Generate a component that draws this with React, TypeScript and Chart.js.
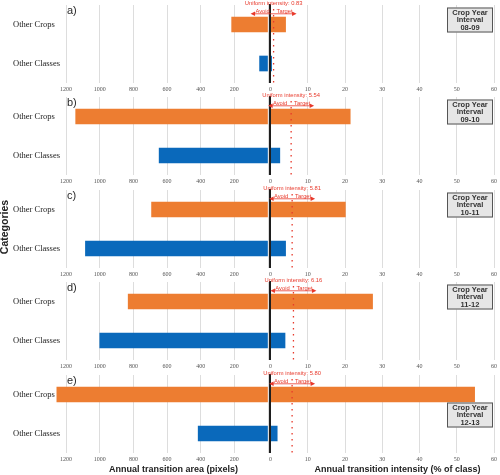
import React, { useEffect, useRef } from 'react';
import { Chart, registerables } from 'chart.js';

Chart.register(...registerables);

// ---------- data ----------
const categories = ['Other Crops', 'Other Classes'];
const panelLabels = ['a)', 'b)', 'c)', 'd)', 'e)'];
const intervals = ['08-09', '09-10', '10-11', '11-12', '12-13'];
const areaCrops = [216, 1143, 692, 831, 1255];
const areaClasses = [50, 647, 1085, 1000, 415];
const intensityCrops = [4.05, 21.4, 20.1, 27.4, 54.8];
const intensityClasses = [0.3, 2.5, 4.05, 3.9, 1.8];
const uniformIntensity = [0.83, 5.54, 5.81, 6.16, 5.8];
const areaTicks = [0, 200, 400, 600, 800, 1000, 1200];
const intensityTicks = [0, 10, 20, 30, 40, 50, 60];
const areaMax = 1260;
const intensityMax = 60;

// ---------- style ----------
const ORANGE = '#ED7D31';
const BLUE = '#0A69BB';
const RED = '#E8392B';
const GRID = '#dddddd';
const SANS = '"Liberation Sans", Arial, sans-serif';
const SERIF = '"Liberation Serif", "Times New Roman", serif';

const PLOT_TOP0 = 4.5;
const PLOT_STEP = 92.5;
const PLOT_H = 78;
const PAD_TOP = 14;
const AXIS_H = 14;
const TITLE_H = 16;
const LEFT_X = 0;
const LEFT_W = 272;
const RIGHT_X = 240;
const RIGHT_W = 260;

const n = panelLabels.length;

function panelGeom(i: number) {
  const plotTop = PLOT_TOP0 + i * PLOT_STEP;
  const top = plotTop - PAD_TOP;
  const h = PAD_TOP + PLOT_H + AXIS_H + (i === n - 1 ? TITLE_H : 0);
  return { top, h };
}

function leftPlugin(i: number) {
  return {
    id: 'leftDeco' + i,
    afterDatasetsDraw(chart: any) {
      const { ctx, chartArea: a, scales } = chart;
      const ys = scales.y;
      ctx.save();
      // category labels (left aligned)
      ctx.fillStyle = '#222';
      ctx.font = `8.5px ${SERIF}`;
      ctx.textAlign = 'left';
      ctx.textBaseline = 'middle';
      categories.forEach((c, k) => {
        ctx.fillText(c, 13, ys.getPixelForValue(k));
      });
      ctx.fillStyle = '#2a2a2a';
      ctx.font = `11px ${SANS}`;
      ctx.fillText(panelLabels[i], a.left + 11, a.top + 6);
      if (i === 2) {
        ctx.save();
        ctx.translate(5.5, a.top + 37);
        ctx.rotate(-Math.PI / 2);
        ctx.font = `bold 10.5px ${SANS}`;
        ctx.textAlign = 'center';
        ctx.fillStyle = '#222';
        ctx.fillText('Categories', 0, 0);
        ctx.restore();
      }
      if (i === n - 1) {
        ctx.font = `bold 9px ${SANS}`;
        ctx.textAlign = 'center';
        ctx.fillStyle = '#222';
        ctx.fillText('Annual transition area (pixels)', 173.5 - LEFT_X, a.bottom + 16.5);
      }
      ctx.restore();
    },
  };
}

function rightPlugin(i: number) {
  return {
    id: 'rightDeco' + i,
    afterDatasetsDraw(chart: any) {
      const { ctx, chartArea: a, scales } = chart;
      const xs = scales.x;
      const u = uniformIntensity[i];
      const x0 = xs.getPixelForValue(0);
      const ux = xs.getPixelForValue(u);
      ctx.save();
      // zero line
      ctx.strokeStyle = '#1e1e1e';
      ctx.lineWidth = 2;
      ctx.beginPath();
      ctx.moveTo(x0 - 0.5, a.top - 1);
      ctx.lineTo(x0 - 0.5, a.bottom);
      ctx.stroke();
      // uniform intensity dotted line
      ctx.strokeStyle = RED;
      ctx.lineWidth = 1.3;
      ctx.setLineDash([1.5, 4.5]);
      ctx.beginPath();
      ctx.moveTo(ux, a.top + 4);
      ctx.lineTo(ux, a.bottom);
      ctx.stroke();
      ctx.setLineDash([]);
      // labels
      ctx.fillStyle = RED;
      ctx.font = `5.8px ${SANS}`;
      ctx.textAlign = 'center';
      ctx.textBaseline = 'middle';
      ctx.fillText(`Uniform intensity: ${u.toFixed(2)}`, ux, a.top - 1.5);
      ctx.fillText('Avoid', ux - 11, a.top + 6);
      ctx.fillText('Target', ux + 11, a.top + 6);
      // arrows
      const ay = a.top + 8.8;
      ctx.strokeStyle = RED;
      ctx.lineWidth = 0.8;
      ctx.beginPath();
      ctx.moveTo(ux - 20, ay);
      ctx.lineTo(ux + 20, ay);
      ctx.stroke();
      ctx.beginPath();
      ctx.moveTo(ux - 23, ay);
      ctx.lineTo(ux - 18.5, ay - 2.2);
      ctx.lineTo(ux - 18.5, ay + 2.2);
      ctx.closePath();
      ctx.fill();
      ctx.beginPath();
      ctx.moveTo(ux + 23, ay);
      ctx.lineTo(ux + 18.5, ay - 2.2);
      ctx.lineTo(ux + 18.5, ay + 2.2);
      ctx.closePath();
      ctx.fill();
      // interval box
      const bx = a.right - 47;
      const by = a.top + (i === n - 1 ? 27.5 : 2.5);
      const bw = 46;
      const bh = 25;
      ctx.fillStyle = '#e6e6e6';
      ctx.fillRect(bx, by, bw, bh);
      ctx.strokeStyle = '#555';
      ctx.lineWidth = 1;
      ctx.strokeRect(bx + 0.5, by + 0.5, bw - 1, bh - 1);
      ctx.fillStyle = '#333';
      ctx.font = `bold 7.5px ${SANS}`;
      ctx.fillText('Crop Year', bx + bw / 2, by + 5.5);
      ctx.fillText('Interval', bx + bw / 2, by + 12.8);
      ctx.fillText(intervals[i], bx + bw / 2, by + 20);
      if (i === n - 1) {
        ctx.font = `bold 9px ${SANS}`;
        ctx.fillStyle = '#222';
        ctx.fillText('Annual transition intensity (% of class)', 397.5 - RIGHT_X, a.bottom + 16.5);
      }
      ctx.restore();
    },
  };
}

function makeLeft(canvas: HTMLCanvasElement, i: number) {
  const last = i === n - 1;
  return new Chart(canvas, {
    type: 'bar',
    data: {
      labels: categories,
      datasets: [
        {
          data: [areaCrops[i], areaClasses[i]],
          backgroundColor: [ORANGE, BLUE],
          borderWidth: 0,
          barThickness: 15,
        },
      ],
    },
    options: {
      indexAxis: 'y',
      responsive: false,
      animation: false,
      layout: { padding: { top: PAD_TOP, left: 13, right: LEFT_W - 268, bottom: last ? TITLE_H : 0 } },
      plugins: { legend: { display: false }, tooltip: { enabled: false } },
      scales: {
        x: {
          type: 'linear',
          reverse: true,
          min: 0,
          max: areaMax,
          afterBuildTicks: (s: any) => {
            s.ticks = areaTicks.map((v) => ({ value: v }));
          },
          ticks: {
            font: { family: SERIF, size: 6 },
            color: '#555',
            padding: 3,
            maxRotation: 0,
            autoSkip: false,
            callback: (v: any) => (Number(v) === 0 ? '' : String(v)),
          },
          grid: { color: GRID, lineWidth: 1, drawTicks: false },
          border: { display: false },
          afterFit: (s: any) => {
            s.height = AXIS_H;
          },
        },
        y: {
          type: 'category',
          ticks: { display: false },
          grid: { display: false },
          border: { display: false },
          afterFit: (s: any) => {
            s.width = 43;
          },
        },
      },
    } as any,
    plugins: [leftPlugin(i)],
  });
}

function makeRight(canvas: HTMLCanvasElement, i: number) {
  const last = i === n - 1;
  return new Chart(canvas, {
    type: 'bar',
    data: {
      labels: categories,
      datasets: [
        {
          data: [intensityCrops[i], intensityClasses[i]],
          backgroundColor: [ORANGE, BLUE],
          borderWidth: 0,
          barThickness: 15,
        },
      ],
    },
    options: {
      indexAxis: 'y',
      responsive: false,
      animation: false,
      layout: { padding: { top: PAD_TOP, left: 270.5 - RIGHT_X, right: 4, bottom: last ? TITLE_H : 0 } },
      plugins: { legend: { display: false }, tooltip: { enabled: false } },
      scales: {
        x: {
          type: 'linear',
          min: 0,
          max: intensityMax,
          afterBuildTicks: (s: any) => {
            s.ticks = intensityTicks.map((v) => ({ value: v }));
          },
          ticks: {
            font: { family: SERIF, size: 6 },
            color: '#555',
            padding: 3,
            maxRotation: 0,
            autoSkip: false,
          },
          grid: { color: (c: any) => (c.tick && c.tick.value === 0 ? 'rgba(0,0,0,0)' : GRID), lineWidth: 1, drawTicks: false },
          border: { display: false },
          afterFit: (s: any) => {
            s.height = AXIS_H;
          },
        },
        y: {
          type: 'category',
          display: false,
          grid: { display: false },
        },
      },
    } as any,
    plugins: [rightPlugin(i)],
  });
}

export default function App() {
  const leftRefs = useRef<(HTMLCanvasElement | null)[]>([]);
  const rightRefs = useRef<(HTMLCanvasElement | null)[]>([]);

  useEffect(() => {
    const charts: Chart[] = [];
    for (let i = 0; i < n; i++) {
      const lc = leftRefs.current[i];
      const rc = rightRefs.current[i];
      if (lc) charts.push(makeLeft(lc, i));
      if (rc) charts.push(makeRight(rc, i));
    }
    return () => {
      charts.forEach((c) => c.destroy());
    };
  }, []);

  return (
    <div
      style={{
        position: 'absolute',
        left: 0,
        top: 0,
        width: 500,
        height: 475,
        background: '#fff',
        overflow: 'hidden',
      }}
    >
      {panelLabels.map((_, i) => {
        const g = panelGeom(i);
        return (
          <React.Fragment key={i}>
            <canvas
              ref={(el) => {
                leftRefs.current[i] = el;
              }}
              width={LEFT_W}
              height={g.h}
              style={{ position: 'absolute', left: LEFT_X, top: g.top, width: LEFT_W, height: g.h }}
            />
            <canvas
              ref={(el) => {
                rightRefs.current[i] = el;
              }}
              width={RIGHT_W}
              height={g.h}
              style={{ position: 'absolute', left: RIGHT_X, top: g.top, width: RIGHT_W, height: g.h }}
            />
          </React.Fragment>
        );
      })}
    </div>
  );
}
